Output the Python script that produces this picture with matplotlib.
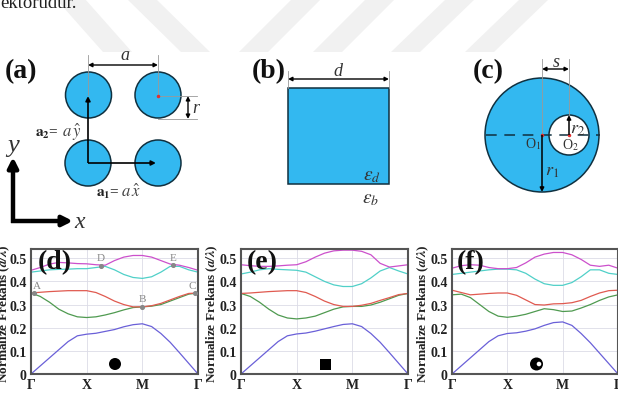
import matplotlib
matplotlib.use("Agg")
import matplotlib.pyplot as plt
from matplotlib import patches

plt.rcParams['font.family'] = ['Liberation Serif', 'DejaVu Serif']
plt.rcParams['mathtext.fontset'] = 'stix'

# band positions along the Gamma-X-M-Gamma path
k = [i / 6 for i in range(19)]
tick_labels = ['Γ', 'X', 'M', 'Γ']
y_ticks = [0, 0.1, 0.2, 0.3, 0.4, 0.5]
y_labels = ['0', '0.1', '0.2', '0.3', '0.4', '0.5']

band_colors = ['#6a60d8', '#4f9a50', '#e05a50', '#50d0c8', '#cc50cc']

d_bands = [
    [0, .035, .07, .105, .14, .165, .172, .176, .184, .192, .204, .213, .217, .205, .175, .137, .092, .046, 0],
    [.35, .335, .31, .28, .26, .247, .244, .247, .255, .265, .277, .287, .29, .293, .30, .315, .33, .345, .35],
    [.35, .353, .356, .358, .36, .36, .36, .352, .335, .315, .30, .29, .29, .295, .305, .32, .335, .348, .35],
    [.44, .445, .45, .452, .453, .455, .455, .46, .465, .45, .43, .417, .413, .42, .44, .465, .465, .45, .44],
    [.448, .46, .475, .482, .48, .477, .476, .472, .47, .49, .505, .512, .512, .505, .49, .475, .47, .46, .448],
]
e_bands = [
    [0, .035, .07, .105, .14, .165, .173, .177, .185, .195, .205, .214, .217, .205, .175, .137, .092, .046, 0],
    [.348, .335, .31, .28, .255, .242, .238, .242, .25, .265, .28, .29, .292, .292, .298, .31, .325, .34, .348],
    [.348, .35, .353, .356, .358, .36, .36, .352, .335, .315, .30, .292, .292, .297, .305, .318, .33, .343, .348],
    [.432, .44, .45, .455, .452, .45, .448, .44, .42, .40, .385, .378, .378, .39, .415, .445, .46, .445, .432],
    [.472, .468, .465, .465, .467, .47, .472, .485, .505, .522, .532, .535, .535, .53, .515, .478, .462, .467, .472],
]
f_bands = [
    [0, .035, .07, .105, .14, .165, .175, .178, .185, .195, .21, .222, .225, .21, .175, .135, .09, .045, 0],
    [.342, .345, .33, .30, .27, .25, .245, .25, .258, .27, .282, .278, .27, .272, .285, .30, .318, .333, .342],
    [.362, .352, .342, .345, .348, .35, .35, .34, .32, .30, .298, .303, .304, .308, .318, .335, .35, .36, .362],
    [.43, .435, .44, .445, .45, .453, .453, .45, .435, .41, .39, .383, .383, .395, .42, .45, .45, .435, .43],
    [.457, .468, .472, .47, .46, .455, .455, .46, .48, .505, .518, .525, .525, .515, .495, .47, .465, .47, .457],
]

# symmetry points marked on panel (d)
mark_k = [0.06, 2, 2.94, 1.26, 2.557]
mark_f = [.35, .29, .35, .468, .47]
mark_names = ['A', 'B', 'C', 'D', 'E']

W, H = 618, 410
fig = plt.figure(figsize=(W / 100, H / 100), dpi=100)


def band_axes(left, right, bands, ylab_x):
    top, bottom = 250, 375
    ax = fig.add_axes([left / W, 1 - bottom / H, (right - left) / W, (bottom - top) / H])
    for band, color in zip(bands, band_colors):
        ax.plot(k, band, color=color, lw=0.9)
    ax.set_xlim(0, 3)
    ax.set_ylim(0, 0.54)
    ax.set_xticks([0, 1, 2, 3], tick_labels)
    ax.set_yticks(y_ticks, y_labels)
    ax.tick_params(length=0, pad=3, labelsize=10)
    for t in ax.get_xticklabels() + ax.get_yticklabels():
        t.set_fontweight('bold')
        t.set_color('#222222')
    ax.grid(color='#dcdce6', lw=0.6)
    for s in ax.spines.values():
        s.set_color('#555555')
        s.set_linewidth(1.5)
    fig.text(ylab_x / W, 1 - 314 / H, r'Normalize Frekans ($\mathbfit{a/\lambda}$)', rotation=90,
             ha='center', va='center', fontsize=9.5, fontweight='bold', color='#222222')
    return ax


ax_d = band_axes(31, 198, d_bands, 4.5)
ax_e = band_axes(241, 408, e_bands, 212)
ax_f = band_axes(452, 618, f_bands, 423)

ax_d.scatter(mark_k, mark_f, s=7, color='#888888', zorder=3, clip_on=False)
for name, mk, mf in zip(mark_names, mark_k, mark_f):
    dx = {'A': 2, 'C': -2}.get(name, 0)
    ax_d.annotate(name, (mk, mf), xytext=(dx, 2.5), textcoords='offset points', ha='center',
                  va='bottom', fontsize=8, color='#888888')

# schematics are drawn in pixel coordinates on a full-figure overlay
ov = fig.add_axes([0, 0, 1, 1], zorder=5)
ov.patch.set_alpha(0)
ov.set_xlim(0, W)
ov.set_ylim(H, 0)
ov.axis('off')

# watermark stripes, behind everything on the overlay
stripes = [(56, 103), (127, 181), (292, 239), (366, 313), (446, 391), (520, 465)]
for x0, x1 in stripes:
    ov.add_patch(patches.Polygon([(x0, 0), (x0 + 29, 0), (x1 + 29, 53), (x1, 53)], fc='#f1f1f1', ec='none', zorder=0))

ov.text(0, 8, 'ektorudur.', fontsize=13.5, color='#222222', va='baseline')

BLUE = '#33b8f0'
DARK = '#10303f'


def arrow(x0, y0, x1, y1, lw=1.0, style='-|>', ms=7):
    ov.annotate('', xy=(x1, y1), xytext=(x0, y0),
                arrowprops=dict(arrowstyle=style, lw=lw, color='black', shrinkA=0, shrinkB=0,
                                mutation_scale=ms, capstyle='butt'), zorder=6)


def guide(x0, y0, x1, y1):
    ov.plot([x0, x1], [y0, y1], color='#999999', lw=0.6, zorder=3)


# panel (a)
for cx, cy in [(88.5, 96), (158, 96), (88, 164), (158, 164)]:
    ov.add_patch(patches.Circle((cx, cy), 23, fc=BLUE, ec=DARK, lw=1.1, zorder=2))
guide(88, 56, 88, 96)
guide(158, 56, 158, 96)
guide(158, 97, 197, 97)
guide(158, 120, 197, 120)
ov.plot([158], [97], 'o', ms=1.5, color='#e03030', zorder=4)
arrow(158, 66, 88, 66, style='<|-|>', ms=6)
arrow(188, 97, 188, 120, style='<|-|>', ms=6)
arrow(88, 164, 88, 97, lw=1.2)
arrow(88, 164, 156, 164, lw=1.2)
arrow(13, 224, 13, 158, lw=3.2, ms=15)
arrow(11, 222, 73, 222, lw=3.2, ms=15)
ov.text(125, 60, 'a', style='italic', fontsize=13, ha='center', va='baseline', color='#333333')
ov.text(196, 113, 'r', style='italic', fontsize=13, ha='center', va='baseline', color='#333333')
ov.text(5, 78, '(a)', fontweight='bold', fontsize=20, color='#111111')
ov.text(35, 137, r'$\mathbf{a_2}$=', fontsize=11, color='#222222')
ov.text(62, 137, r'$a\,\hat{y}$', fontsize=12, color='#444444')
ov.text(96, 197, r'$\mathbf{a_1}$=', fontsize=11, color='#222222')
ov.text(121, 197, r'$a\,\hat{x}$', fontsize=12, color='#444444')
ov.text(13, 152, 'y', style='italic', fontsize=19, ha='center', color='#333333')
ov.text(80, 228, 'x', style='italic', fontsize=17, ha='center', color='#333333')

# panel (b)
ov.add_patch(patches.Rectangle((288, 89), 101, 96, fc=BLUE, ec=DARK, lw=1.1, zorder=2))
guide(288, 72, 288, 89)
guide(389, 72, 389, 89)
arrow(288, 80, 389, 80, style='<|-|>', ms=6)
ov.text(338, 76, 'd', style='italic', fontsize=13, ha='center', color='#333333')
ov.text(252, 78, '(b)', fontweight='bold', fontsize=20, color='#111111')
ov.text(372, 180, r'$\varepsilon_d$', fontsize=14, ha='center', color='#333333')
ov.text(371, 203, r'$\varepsilon_b$', fontsize=14, ha='center', color='#333333')

# panel (c)
ov.add_patch(patches.Circle((542, 136), 57, fc=BLUE, ec=DARK, lw=1.1, zorder=2))
ov.add_patch(patches.Circle((569, 136), 20, fc='white', ec=DARK, lw=1.1, zorder=3))
ov.plot([486, 600], [136, 136], color=DARK, lw=1.1, dashes=(7, 5), zorder=4)
guide(542, 60, 542, 136)
guide(569, 60, 569, 116)
ov.plot([542, 569], [136, 136], 'o', ms=1.5, color='#e03030', zorder=5)
arrow(542, 70, 569, 70, style='<|-|>', ms=6)
arrow(542, 136, 542, 193, lw=1.1, ms=6)
arrow(569, 136, 569, 116, lw=1.1, ms=6)
ov.text(556, 67, 's', style='italic', fontsize=13, ha='center', color='#333333')
ov.text(473, 78, '(c)', fontweight='bold', fontsize=20, color='#111111')
ov.text(578, 134, r'$r_2$', fontsize=13, ha='center', color='#333333', zorder=6)
ov.text(570, 149, r'O$_2$', fontsize=10, ha='center', color='#333333', zorder=6)
ov.text(533, 148, r'O$_1$', fontsize=10, ha='center', color='#333333', zorder=6)
ov.text(552, 176, r'$r_1$', fontsize=13, ha='center', color='#333333', zorder=6)

# panel labels and inset shapes on the band plots
ov.text(38, 269, '(d)', fontweight='bold', fontsize=20, color='#111111')
ov.text(247, 269, '(e)', fontweight='bold', fontsize=20, color='#111111')
ov.text(457, 269, '(f)', fontweight='bold', fontsize=20, color='#111111')
ov.add_patch(patches.Circle((115, 365), 6, fc='black', ec='none'))
ov.add_patch(patches.Rectangle((320, 360), 10.5, 10.5, fc='black', ec='none'))
ov.add_patch(patches.Circle((536.5, 365), 6.5, fc='black', ec='none'))
ov.add_patch(patches.Circle((539, 365), 2.3, fc='white', ec='none'))

fig.savefig('out.png', dpi=100)
